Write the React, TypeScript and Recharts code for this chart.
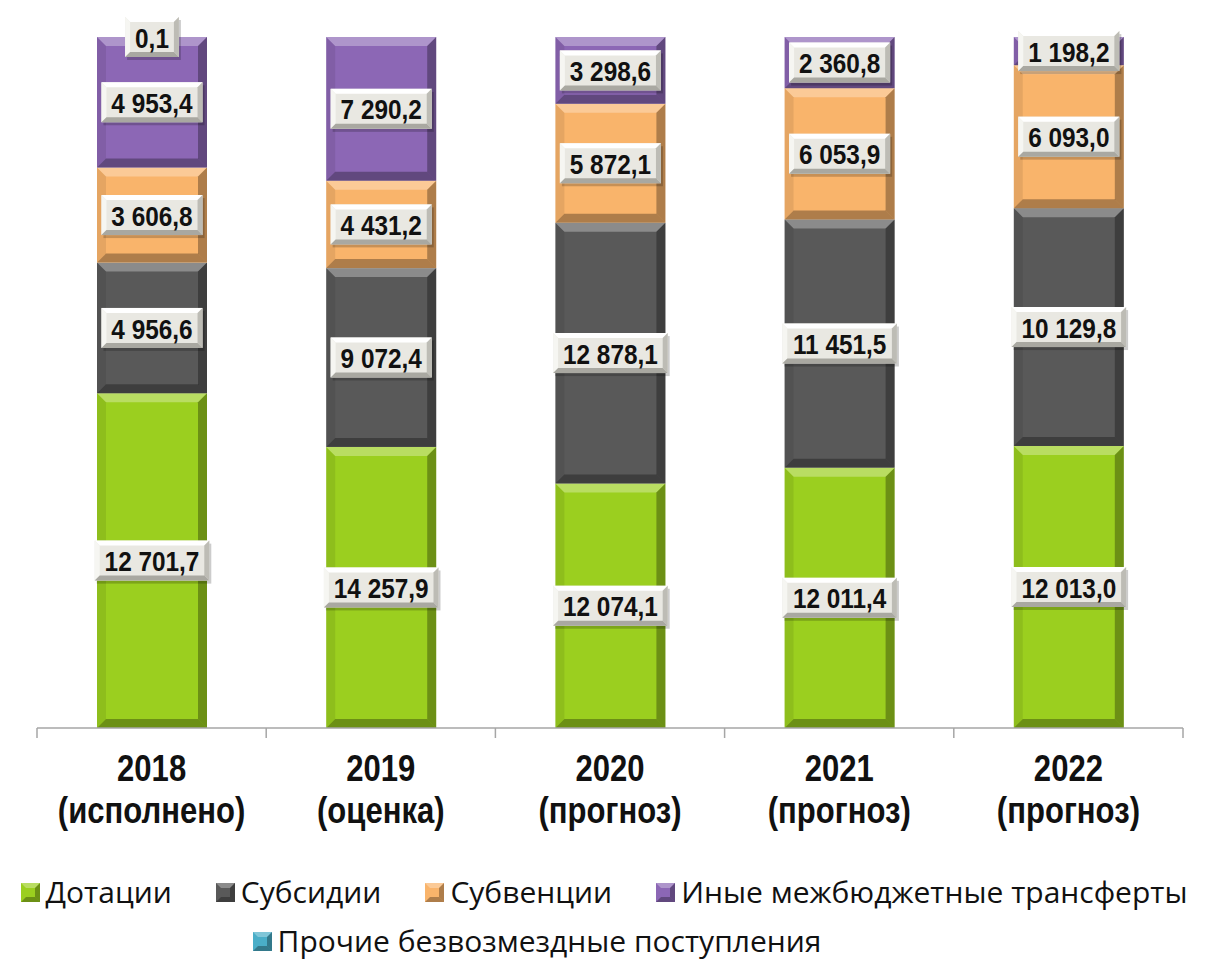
import React from 'react'
import { BarChart, Bar, XAxis, YAxis, Legend, LabelList } from 'recharts'

const categories = ['2018', '2019', '2020', '2021', '2022']
const subLabels = ['(исполнено)', '(оценка)', '(прогноз)', '(прогноз)', '(прогноз)']

const dotacii = [12701.7, 14257.9, 12074.1, 12011.4, 12013.0]
const subsidii = [4956.6, 9072.4, 12878.1, 11451.5, 10129.8]
const subvencii = [3606.8, 4431.2, 5872.1, 6053.9, 6093.0]
const inye = [4953.4, 7290.2, 3298.6, 2360.8, 1198.2]
const prochie = [0.1, 0, 0, 0, 0]

const series = [
  { key: 'dotacii', name: 'Дотации', color: '#9bcf1f' },
  { key: 'subsidii', name: 'Субсидии', color: '#595959' },
  { key: 'subvencii', name: 'Субвенции', color: '#f9b46b' },
  { key: 'inye', name: 'Иные межбюджетные трансферты', color: '#8c67b5' },
  { key: 'prochie', name: 'Прочие безвозмездные поступления', color: '#4aaec8' },
]

const data = categories.map((c, i) => ({
  year: c,
  sub: subLabels[i],
  dotacii: dotacii[i],
  subsidii: subsidii[i],
  subvencii: subvencii[i],
  inye: inye[i],
  prochie: prochie[i],
}))

const W = 1208
const H = 960
const M = { top: 37, right: 25, left: 37, bottom: 0 }
const BAND = (W - M.left - M.right) / categories.length

const NUM_FONT = '"Liberation Sans", Arial, sans-serif'

const fmt = (v: number) => {
  const [int, dec] = v.toFixed(1).split('.')
  return int.replace(/\B(?=(\d{3})+(?!\d))/g, ' ') + ',' + dec
}

const BevelBar = (props: any) => {
  const { x, y, width: w, height: h, fill } = props
  if (!h || h <= 0) return <g />
  const b = Math.min(9, h / 2, w / 2)
  return (
    <g>
      <rect x={x} y={y} width={w} height={h} fill={fill} />
      <polygon points={`${x},${y} ${x + w},${y} ${x + w - b},${y + b} ${x + b},${y + b}`} fill="#fff" opacity={0.3} />
      <polygon points={`${x},${y} ${x + b},${y + b} ${x + b},${y + h - b} ${x},${y + h}`} fill="#000" opacity={0.08} />
      <polygon points={`${x + w},${y} ${x + w},${y + h} ${x + w - b},${y + h - b} ${x + w - b},${y + b}`} fill="#000" opacity={0.3} />
      <polygon points={`${x},${y + h} ${x + w},${y + h} ${x + w - b},${y + h - b} ${x + b},${y + h - b}`} fill="#000" opacity={0.3} />
    </g>
  )
}

const ValueLabel = (props: any) => {
  const { x, y, width, height, value } = props
  if (!value) return null
  const text = fmt(Number(value))
  const tw = text.split('').reduce((s, ch) => s + (ch === ' ' || ch === ',' ? 6.8 : 13.5), 0)
  const bw = tw + 20
  const bh = 40
  const bx = x + width / 2 - bw / 2
  const by = y + height / 2 - bh / 2
  const b = 5
  return (
    <g>
      <rect x={bx + 2} y={by + 3} width={bw} height={bh} fill="#000" opacity={0.2} />
      <rect x={bx} y={by} width={bw} height={bh} fill="#e9e8e2" />
      <polygon points={`${bx},${by} ${bx + bw},${by} ${bx + bw - b},${by + b} ${bx + b},${by + b}`} fill="#fff" />
      <polygon points={`${bx},${by} ${bx + b},${by + b} ${bx + b},${by + bh - b} ${bx},${by + bh}`} fill="#f6f6f2" />
      <polygon points={`${bx + bw},${by} ${bx + bw},${by + bh} ${bx + bw - b},${by + bh - b} ${bx + bw - b},${by + b}`} fill="#bdbcb5" />
      <polygon points={`${bx},${by + bh} ${bx + bw},${by + bh} ${bx + bw - b},${by + bh - b} ${bx + b},${by + bh - b}`} fill="#a9a8a1" />
      <text
        transform={`translate(${x + width / 2},${y + height / 2 + 1}) scale(0.87,1)`}
        textAnchor="middle"
        dominantBaseline="central"
        fontFamily={NUM_FONT}
        fontWeight="bold"
        fontSize={28}
        fill="#111"
      >
        {text}
      </text>
    </g>
  )
}

const YearTick = (props: any) => {
  const { x, y, payload, index } = props
  const row = data[index] || data.find((d) => d.year === payload.value)
  const left = x - BAND / 2
  return (
    <g>
      <line x1={left} y1={y} x2={left} y2={y + 10} stroke="#a6a6a6" strokeWidth={1.5} />
      {index === categories.length - 1 && (
        <line x1={x + BAND / 2} y1={y} x2={x + BAND / 2} y2={y + 10} stroke="#a6a6a6" strokeWidth={1.5} />
      )}
      <text transform={`translate(${x},${y + 53}) scale(0.84,1)`} textAnchor="middle" fontFamily={NUM_FONT} fontWeight="bold" fontSize={37} fill="#111">
        {payload.value}
      </text>
      <text transform={`translate(${x},${y + 95}) scale(0.84,1)`} textAnchor="middle" fontFamily={NUM_FONT} fontWeight="bold" fontSize={37} fill="#111">
        {row ? row.sub : ''}
      </text>
    </g>
  )
}

const Marker = ({ color }: { color: string }) => (
  <svg width={19} height={19} style={{ marginRight: 6, flex: 'none' }}>
    <rect x={0} y={0} width={19} height={19} fill={color} />
    <polygon points="0,0 19,0 14,5 5,5" fill="#fff" opacity={0.3} />
    <polygon points="19,0 19,19 14,14 14,5" fill="#000" opacity={0.3} />
    <polygon points="0,19 19,19 14,14 5,14" fill="#000" opacity={0.3} />
  </svg>
)

const LegendContent = () => {
  const item = (s: (typeof series)[number]) => (
    <div key={s.key} style={{ display: 'flex', alignItems: 'center', flex: 'none', whiteSpace: 'nowrap' }}>
      <Marker color={s.color} />
      <span>{s.name}</span>
    </div>
  )
  return (
    <div style={{ width: W, height: 100, fontFamily: '"Open Sans", sans-serif', fontSize: 30, color: '#111', lineHeight: '40px' }}>
      <div style={{ display: 'flex', justifyContent: 'center', gap: 44, paddingTop: 12 }}>
        {series.slice(0, 4).map(item)}
      </div>
      <div style={{ display: 'flex', justifyContent: 'center', paddingRight: 134, marginTop: 9 }}>
        {series.slice(4).map(item)}
      </div>
    </div>
  )
}

export default function App() {
  return (
    <div style={{ position: 'absolute', left: 0, top: 0, width: W, height: H, background: '#fff' }}>
      <BarChart width={W} height={H} data={data} margin={M} stackOffset="expand" barSize={110}>
        <XAxis
          dataKey="year"
          height={132}
          axisLine={{ stroke: '#a6a6a6', strokeWidth: 1.5 }}
          tickLine={false}
          tickSize={0}
          tickMargin={0}
          interval={0}
          tick={<YearTick />}
        />
        <YAxis hide domain={[0, 1]} />
        <Legend
          verticalAlign="bottom"
          content={<LegendContent />}
          wrapperStyle={{ left: 0, width: W, bottom: 0 }}
        />
        {series.map((s) => (
          <Bar key={s.key} dataKey={s.key} name={s.name} stackId="a" fill={s.color} shape={<BevelBar />} isAnimationActive={false}>
            <LabelList dataKey={s.key} content={<ValueLabel />} />
          </Bar>
        ))}
      </BarChart>
    </div>
  )
}
